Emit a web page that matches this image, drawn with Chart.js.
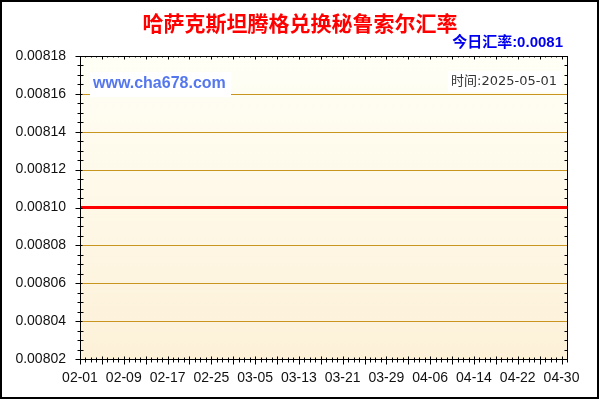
<!DOCTYPE html>
<html>
<head>
<meta charset="utf-8">
<script src="https://cdn.jsdelivr.net/npm/chart.js@4.4.0/dist/chart.umd.min.js"></script>
<style>
  html, body { margin: 0; padding: 0; background: #fff; }
  #wrap { width: 600px; height: 400px; position: relative; }
</style>
</head>
<body>
<div id="wrap"><canvas id="rateChart" width="600" height="400"></canvas></div>
<script>
const dates = [
  "02-01","02-02","02-03","02-04","02-05","02-06","02-07","02-08","02-09","02-10",
  "02-11","02-12","02-13","02-14","02-15","02-16","02-17","02-18","02-19","02-20",
  "02-21","02-22","02-23","02-24","02-25","02-26","02-27","02-28",
  "03-01","03-02","03-03","03-04","03-05","03-06","03-07","03-08","03-09","03-10",
  "03-11","03-12","03-13","03-14","03-15","03-16","03-17","03-18","03-19","03-20",
  "03-21","03-22","03-23","03-24","03-25","03-26","03-27","03-28","03-29","03-30","03-31",
  "04-01","04-02","04-03","04-04","04-05","04-06","04-07","04-08","04-09","04-10",
  "04-11","04-12","04-13","04-14","04-15","04-16","04-17","04-18","04-19","04-20",
  "04-21","04-22","04-23","04-24","04-25","04-26","04-27","04-28","04-29","04-30",
  "05-01"
];

const rates = [
  0.0081,0.0081,0.0081,0.0081,0.0081,0.0081,0.0081,0.0081,0.0081,0.0081,
  0.0081,0.0081,0.0081,0.0081,0.0081,0.0081,0.0081,0.0081,0.0081,0.0081,
  0.0081,0.0081,0.0081,0.0081,0.0081,0.0081,0.0081,0.0081,
  0.0081,0.0081,0.0081,0.0081,0.0081,0.0081,0.0081,0.0081,0.0081,0.0081,
  0.0081,0.0081,0.0081,0.0081,0.0081,0.0081,0.0081,0.0081,0.0081,0.0081,
  0.0081,0.0081,0.0081,0.0081,0.0081,0.0081,0.0081,0.0081,0.0081,0.0081,0.0081,
  0.0081,0.0081,0.0081,0.0081,0.0081,0.0081,0.0081,0.0081,0.0081,0.0081,
  0.0081,0.0081,0.0081,0.0081,0.0081,0.0081,0.0081,0.0081,0.0081,0.0081,
  0.0081,0.0081,0.0081,0.0081,0.0081,0.0081,0.0081,0.0081,0.0081,0.0081,
  0.0081
];

const yMin = 0.00802;
const yMax = 0.00818;
const yStep = 0.00002;

const titleText = "哈萨克斯坦腾格兑换秘鲁索尔汇率";
const todayText = "今日汇率:0.0081";
const siteText = "www.cha678.com";
const timeText = "时间:2025-05-01";

const FONT = "'Liberation Sans', Arial, 'Noto Sans CJK SC', sans-serif";

// background of the plot + outer frame + titles
const framePlugin = {
  id: "frame",
  beforeDraw(chart) {
    const { ctx, chartArea: a } = chart;
    ctx.save();
    ctx.fillStyle = "#fff";
    ctx.fillRect(0, 0, chart.width, chart.height);
    const g = ctx.createLinearGradient(0, a.top, 0, a.bottom);
    g.addColorStop(0, "#fffff6");
    g.addColorStop(1, "#fdf1d8");
    ctx.fillStyle = g;
    ctx.fillRect(a.left, a.top, a.right - a.left, a.bottom - a.top);

    ctx.strokeStyle = "#000";
    ctx.lineWidth = 2;
    ctx.strokeRect(1, 1, chart.width - 3, chart.height - 3);

    ctx.textBaseline = "middle";
    ctx.fillStyle = "#ff0000";
    ctx.font = "bold 21px 'Noto Sans CJK SC', sans-serif";
    ctx.textAlign = "center";
    ctx.fillText(titleText, 300, 23);

    ctx.fillStyle = "#0000ee";
    ctx.font = "bold 15px " + FONT;
    ctx.textAlign = "right";
    ctx.fillText(todayText, 563, 43);
    ctx.restore();
  },
  beforeDatasetsDraw(chart) {
    const { ctx, chartArea: a } = chart;
    const y = chart.scales.y;
    ctx.save();
    // golden grid lines on the y ticks
    ctx.strokeStyle = "#c8961e";
    ctx.lineWidth = 1;
    ctx.beginPath();
    y.ticks.forEach((t) => {
      const py = Math.round(y.getPixelForValue(t.value)) + 0.5;
      ctx.moveTo(a.left, py);
      ctx.lineTo(a.right, py);
    });
    ctx.stroke();

    ctx.fillStyle = "#fff";
    ctx.fillRect(90, 72, 141, 25);
    ctx.fillRect(448, 71, 114, 21);
    ctx.textBaseline = "middle";
    ctx.fillStyle = "#5577ee";
    ctx.font = "bold 16px " + FONT;
    ctx.textAlign = "left";
    ctx.fillText(siteText, 93, 84);
    ctx.fillStyle = "#333";
    ctx.font = "13px 'DejaVu Sans', 'Noto Sans CJK SC', sans-serif";
    ctx.textAlign = "right";
    ctx.fillText(timeText, 557, 82);
    ctx.restore();
  },
  afterDraw(chart) {
    const { ctx, chartArea: a } = chart;
    const x = chart.scales.x;
    const y = chart.scales.y;
    ctx.save();
    ctx.strokeStyle = "#000";
    ctx.lineWidth = 1;
    const L = Math.round(a.left) + 0.5, R = Math.round(a.right) + 0.5;
    const T = Math.round(a.top) + 0.5, B = Math.round(a.bottom) + 0.5;
    ctx.strokeRect(L, T, R - L, B - T);
    ctx.beginPath();
    // y axis ticks, 4 subdivisions per step
    const n = Math.round((yMax - yMin) / yStep) * 4;
    for (let i = 0; i <= n; i++) {
      const py = Math.round(y.getPixelForValue(yMin + i * yStep / 4)) + 0.5;
      if (i % 4 === 0) {
        ctx.moveTo(L - 5, py); ctx.lineTo(L + 2, py);
      } else {
        ctx.moveTo(L - 3, py); ctx.lineTo(L + 3, py);
        ctx.moveTo(R - 3, py); ctx.lineTo(R, py);
      }
    }
    // x axis ticks
    for (let i = 0; i < dates.length; i++) {
      const px = Math.round(x.getPixelForValue(i)) + 0.5;
      if (i % 4 === 0) {
        ctx.moveTo(px, B - 3); ctx.lineTo(px, B + 5);
        ctx.moveTo(px, T); ctx.lineTo(px, T + 3);
      } else {
        ctx.moveTo(px, B - 2); ctx.lineTo(px, B + 3);
        ctx.moveTo(px, T); ctx.lineTo(px, T + 1);
      }
    }
    ctx.stroke();
    ctx.restore();
  }
};

new Chart("rateChart", {
  type: "line",
  data: {
    labels: dates,
    datasets: [
      {
        data: rates,
        borderColor: "#ff0000",
        borderWidth: 3,
        pointRadius: 0,
        fill: false,
        tension: 0,
      },
    ],
  },
  options: {
    responsive: false,
    animation: false,
    devicePixelRatio: 1,
    layout: { padding: { top: 56, right: 33, left: 0, bottom: 0 } },
    plugins: {
      legend: { display: false },
      title: { display: false },
      tooltip: { enabled: false },
    },
    scales: {
      x: {
        type: "category",
        offset: false,
        afterFit: (s) => { s.height = 41; },
        grid: { display: false, drawTicks: false },
        border: { display: false },
        ticks: {
          autoSkip: false,
          maxRotation: 0,
          padding: 11,
          color: "#111",
          font: { family: FONT, size: 14 },
          callback: (v, i) => (i % 8 === 0 ? dates[i] : ""),
        },
      },
      y: {
        min: yMin,
        max: yMax,
        afterFit: (s) => { s.width = 80; },
        grid: { display: false, drawTicks: false },
        border: { display: false },
        ticks: {
          stepSize: yStep,
          padding: 14,
          color: "#111",
          font: { family: FONT, size: 14 },
          callback: (v) => v.toFixed(5),
        },
      },
    },
  },
  plugins: [framePlugin],
});
</script>
</body>
</html>
